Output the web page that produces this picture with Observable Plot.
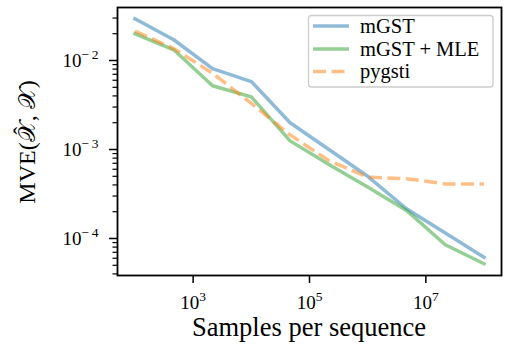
<!DOCTYPE html>
<html>
<head>
<meta charset="utf-8">
<script src="https://cdn.jsdelivr.net/npm/d3@7"></script>
<script src="https://cdn.jsdelivr.net/npm/@observablehq/plot@0.6"></script>
<style>
  html, body { margin: 0; padding: 0; background: #fff; }
  #chart { width: 507px; height: 345px; }
</style>
</head>
<body>
<div id="chart"></div>
<script>
// ---- data ----
const samples = [100, 464, 2154, 10000, 46416, 215443, 1000000, 4641589, 21544347, 100000000];
const mgst    = [0.0294, 0.0171, 0.0081, 0.0058, 0.0020, 0.00100, 0.00050, 0.000216, 0.000115, 0.0000616];
const mgstMle = [0.0200, 0.0132, 0.0052, 0.0039, 0.00125, 0.00068, 0.00038, 0.000207, 0.000085, 0.000052];
const pygsti  = [0.0214, 0.0136, 0.0072, 0.0033, 0.00146, 0.00075, 0.00049, 0.00047, 0.00041, 0.00041];
const seriesNames  = ["mGST", "mGST + MLE", "pygsti"];
const seriesValues = [mgst, mgstMle, pygsti];
const seriesColors = ["#1f77b4", "#2ca02c", "#ff7f0e"];
const seriesDash   = [null, null, "13,5.5"];
const xTickValues  = [1e3, 1e5, 1e7];
const yTickValues  = [1e-2, 1e-3, 1e-4];
const xLabel = "Samples per sequence";
const yLabelParts = ["MVE(", "\u{1D4B3}", "\u02C6", ", \u{1D4B3})"];

const xDomain = [Math.pow(10, 1.7), Math.pow(10, 8.3)];
const yDomain = [Math.pow(10, -4.4157), Math.pow(10, -1.4045)];

const yMinor = [];
for (let e = -5; e <= -1; e++) for (let m = 2; m <= 9; m++) {
  const v = m * Math.pow(10, e);
  if (v >= yDomain[0] && v <= yDomain[1]) yMinor.push(v);
}

const rows = [];
seriesNames.forEach((name, i) => {
  samples.forEach((s, j) => rows.push({series: name, x: s, y: seriesValues[i][j]}));
});

const font = "Liberation Serif";
const expFmt = d => "10^" + String(Math.round(Math.log10(d))).replace("-", "\u2212");

const lineMarks = seriesNames.map((name, i) =>
  Plot.line(rows.filter(r => r.series === name), {
    x: "x", y: "y",
    stroke: seriesColors[i], strokeOpacity: 0.5, strokeWidth: 3.5,
    strokeDasharray: seriesDash[i] || undefined,
    strokeLinecap: seriesDash[i] ? "butt" : "square", strokeLinejoin: "round"
  })
);

const svg = Plot.plot({
  width: 507, height: 345,
  marginLeft: 117, marginRight: 6, marginTop: 7, marginBottom: 70,
  style: {fontFamily: font, fontSize: "18px", color: "black", background: "white"},
  x: {type: "log", domain: xDomain},
  y: {type: "log", domain: yDomain},
  marks: [
    ...lineMarks,
    Plot.axisY({ticks: yMinor, tickSize: 4.5, strokeWidth: 1.2, fill: "none", label: null}),
    Plot.axisY({ticks: yTickValues, tickSize: 8, strokeWidth: 1.5, tickPadding: 11, tickFormat: expFmt, fontSize: 19, label: null}),
    Plot.axisX({ticks: xTickValues, tickSize: 8, strokeWidth: 1.5, tickPadding: 12, tickFormat: expFmt, fontSize: 19, label: null}),
    Plot.frame({stroke: "black", strokeWidth: 1.8})
  ]
});

const ns = "http://www.w3.org/2000/svg";
// superscript exponents
svg.querySelectorAll("text").forEach(t => {
  const m = /^10\^(.+)$/.exec(t.textContent);
  if (!m) return;
  while (t.firstChild) t.removeChild(t.firstChild);
  t.appendChild(document.createTextNode("10"));
  const ts = document.createElementNS(ns, "tspan");
  ts.setAttribute("dy", "-8");
  ts.setAttribute("font-size", "13.5");
  ts.textContent = m[1].replace("\u2212", "\u2212\u2009");
  t.appendChild(ts);
});

document.getElementById("chart").appendChild(svg);
const root = d3.select(svg);

// axis labels
root.append("text")
  .attr("x", 309).attr("y", 336)
  .attr("text-anchor", "middle")
  .attr("font-family", font).attr("font-size", 26.5).attr("fill", "black")
  .text(xLabel);

const yl = root.append("text")
  .attr("transform", "translate(35,142) rotate(-90)")
  .attr("text-anchor", "middle")
  .attr("font-family", font).attr("font-size", 24).attr("fill", "black");
const t0 = yl.append("tspan").text(yLabelParts[0]);
const tX = yl.append("tspan").text(yLabelParts[1]);
const tH = yl.append("tspan").text(yLabelParts[2]);
const t3 = yl.append("tspan").text(yLabelParts[3]);
const wX = tX.node().getComputedTextLength();
const wH = tH.node().getComputedTextLength();
tH.attr("dx", -(wX / 2 + wH / 2) + 1).attr("dy", -5);
t3.attr("dx", wX / 2 - wH / 2 - 1).attr("dy", 5);

// legend
const lg = root.append("g").attr("text-anchor", "start");
lg.append("rect")
  .attr("x", 308.5).attr("y", 15.5).attr("width", 184.5).attr("height", 71.5)
  .attr("rx", 3).attr("ry", 3)
  .style("fill", "white").style("fill-opacity", 0.8)
  .style("stroke", "#cccccc").style("stroke-width", 1.3);
const rowY = [26, 49, 71.5];
seriesNames.forEach((name, i) => {
  lg.append("line")
    .attr("x1", 313).attr("x2", 349).attr("y1", rowY[i]).attr("y2", rowY[i])
    .style("stroke", seriesColors[i]).style("stroke-opacity", 0.5).style("stroke-width", 3.5)
    .style("stroke-dasharray", seriesDash[i] || "none");
  lg.append("text")
    .attr("x", 360).attr("y", rowY[i] + 6.5)
    .attr("text-anchor", "start")
    .attr("font-family", font).attr("font-size", 20.5).attr("fill", "black")
    .text(name);
});
</script>
</body>
</html>
